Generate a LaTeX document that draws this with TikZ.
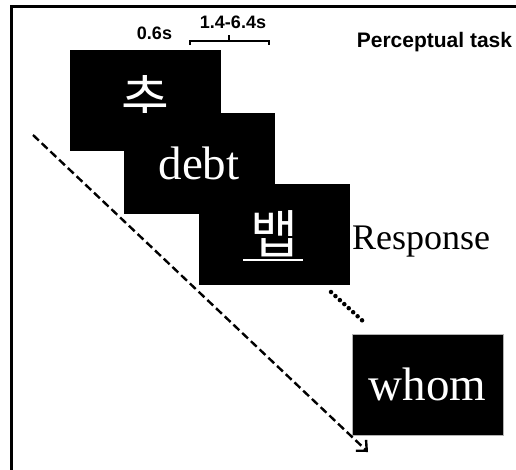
\documentclass[tikz,border=0pt]{standalone}
\usepackage{fontspec}
\setmainfont{Liberation Serif}
\newfontfamily\arialfont{Liberation Sans}
\newfontfamily\krfont{Noto Sans CJK KR}
\usetikzlibrary{arrows.meta}
\begin{document}
\begin{tikzpicture}[x=1pt,y=-1pt,
  card/.style={fill=black, draw=none, minimum width=151pt, minimum height=101pt, inner sep=0pt, text=white},
  sanslab/.style={font=\arialfont\bfseries\fontsize{18}{18}\selectfont, inner sep=0pt, anchor=base},
  serif/.style={font=\fontsize{47}{47}\selectfont},
  kr/.style={font=\krfont\fontsize{52}{52}\selectfont},
  timeline/.style={line width=2.4pt, dash pattern=on 8pt off 4pt, -{Straight Barb[length=8pt,width=15pt,line width=2.4pt]}},
  dots/.style={line width=4.5pt, line cap=round, dash pattern=on 0pt off 6pt},
  bracket/.style={line width=1.4pt}]
\clip (0,0) rectangle (516,469);
\useasboundingbox (0,0) rectangle (516,469);
% frame (only left and top edges fall inside the picture)
\draw[line width=3pt] (11,6) rectangle (540,490);
% stimulus cards
\node[card, kr] (b1) at (145.5,100.5) {\raisebox{8pt}{추}};
\node[card, serif] (b2) at (199,163.5) {\raisebox{-2pt}{debt}};
\node[card, kr] (b3) at (274,234) {\raisebox{4pt}{뱁}};
\draw[white, line width=2pt] ([xshift=-31pt,yshift=-26pt]b3.center) -- ([xshift=29pt,yshift=-26pt]b3.center);
\node[card, serif, draw=gray!60, line width=0.8pt] (b4) at (427.5,384.5) {\raisebox{-3pt}{whom}};
% labels
\node[sanslab] (t06) at (154.5,39) {0.6s};
\node[sanslab] (t14) at (233,28) {1.4-6.4s};
\node[sanslab, font=\arialfont\bfseries\fontsize{21}{21}\selectfont] (pt) at (434.5,47) {Perceptual task};
\node[inner sep=0pt, anchor=base west, font=\fontsize{36}{36}\selectfont] (resp) at (352,249) {Response};
% bracket
\coordinate (brl) at (190,45);
\coordinate (brr) at (269,45);
\coordinate (brm) at (229,41);
\draw[bracket] (brl) -- (190,41) -- (269,41) -- (brr);
\draw[bracket] (brm) -- (229,35);
% time arrow
\coordinate (a0) at (33,135);
\coordinate (a1) at (368,452);
\draw[timeline] (a0) -- (a1);
% dotted continuation
\coordinate (d0) at (331,292);
\coordinate (d1) at (365,323);
\draw[dots] (d0) -- (d1);
\end{tikzpicture}
\end{document}
